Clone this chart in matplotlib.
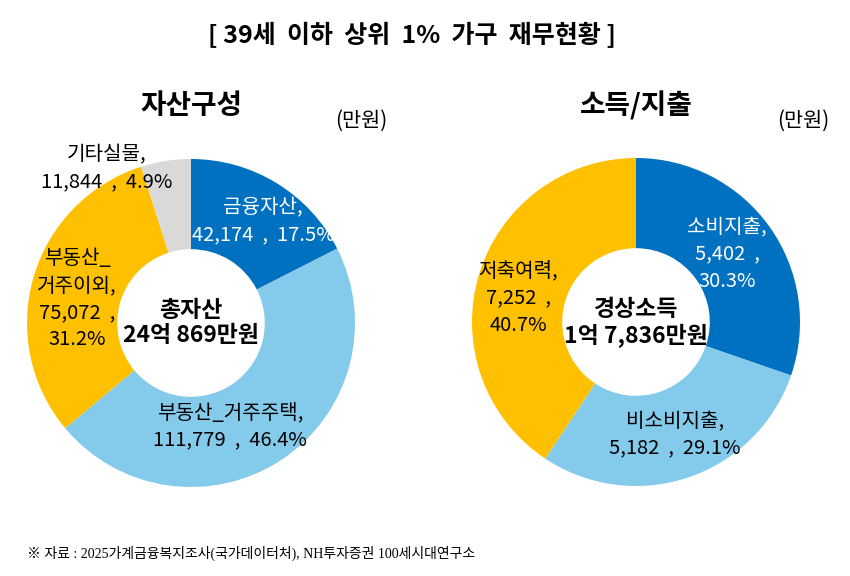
import matplotlib
matplotlib.use("Agg")
import matplotlib.pyplot as plt

plt.rcParams['font.family'] = ['Noto Sans CJK KR', 'DejaVu Sans']

# 자산구성 (만원)
asset_names = ["금융자산", "부동산_거주주택", "부동산_거주이외", "기타실물"]
asset_values = [42174, 111779, 75072, 11844]
asset_pcts = [17.5, 46.4, 31.2, 4.9]
asset_total = "24억 869만원"

# 소득/지출 (만원)
income_names = ["소비지출", "비소비지출", "저축여력"]
income_values = [5402, 5182, 7252]
income_pcts = [30.3, 29.1, 40.7]
income_total = "1억 7,836만원"

DARK = "#0070C0"
LIGHT = "#83CAEB"
YELLOW = "#FFC000"
GRAY = "#D9D9D9"

W, H = 850, 576
fig = plt.figure(figsize=(W / 100, H / 100), dpi=100)


def px(x, y):
    return x / W, 1 - y / H


def txt(x, y, s, **kw):
    fx, fy = px(x, y)
    fig.text(fx, fy, s, ha='center', va='center', **kw)


def donut(cx, cy, r, values, colors):
    ax = fig.add_axes([(cx - r) / W, (H - cy - r) / H, 2 * r / W, 2 * r / H])
    ax.pie(values, colors=colors, startangle=90, counterclock=False,
           wedgeprops=dict(width=0.55, linewidth=0))
    ax.set_xlim(-1, 1)
    ax.set_ylim(-1, 1)
    ax.axis('off')
    return ax


donut(191, 323, 164, asset_values, [DARK, LIGHT, YELLOW, GRAY])
donut(636, 322, 164, income_values, [DARK, LIGHT, YELLOW])

# 제목
txt(412, 35, "[ 39세  이하  상위  1%  가구  재무현황 ]", fontsize=18, fontweight='bold')
txt(191, 106, "자산구성", fontsize=20, fontweight='bold')
txt(636, 106, "소득/지출", fontsize=20, fontweight='bold')
txt(361, 121, "(만원)", fontsize=15)
txt(803, 121, "(만원)", fontsize=15)

lab = dict(fontsize=14.5, linespacing=1.38)


def fmt(name, value, pct, sep1="\n", sep2="  ,  "):
    return f"{name},{sep1}{value:,}{sep2}{pct}%"


# 자산구성 라벨
txt(263, 221, fmt(asset_names[0], asset_values[0], asset_pcts[0]), color='white', **lab)
txt(230, 426, fmt(asset_names[1], asset_values[1], asset_pcts[1]), **lab)
txt(77, 299, fmt(asset_names[2].replace("_", "_\n"), asset_values[2], asset_pcts[2],
                 sep2="  ,\n"), **lab)
txt(107, 168, fmt(asset_names[3], asset_values[3], asset_pcts[3]), **lab)
txt(191, 323, "총자산\n" + asset_total, fontsize=16.5, fontweight='bold', linespacing=1.12)

# 소득/지출 라벨
txt(727, 254, fmt(income_names[0], income_values[0], income_pcts[0], sep2="  ,\n"),
    color='white', **lab)
txt(675, 434, fmt(income_names[1], income_values[1], income_pcts[1]), **lab)
txt(518, 298, fmt(income_names[2], income_values[2], income_pcts[2], sep2="  ,\n"), **lab)
txt(636, 323, "경상소득\n" + income_total, fontsize=16.5, fontweight='bold', linespacing=1.12)

# 출처
fx, fy = px(27, 553)
fig.text(fx, fy, "※ 자료 : 2025가계금융복지조사(국가데이터처), NH투자증권 100세시대연구소",
         ha='left', va='center', fontsize=10,
         family=['Liberation Serif', 'Noto Sans CJK KR'])

fig.savefig("out.png", dpi=100)
